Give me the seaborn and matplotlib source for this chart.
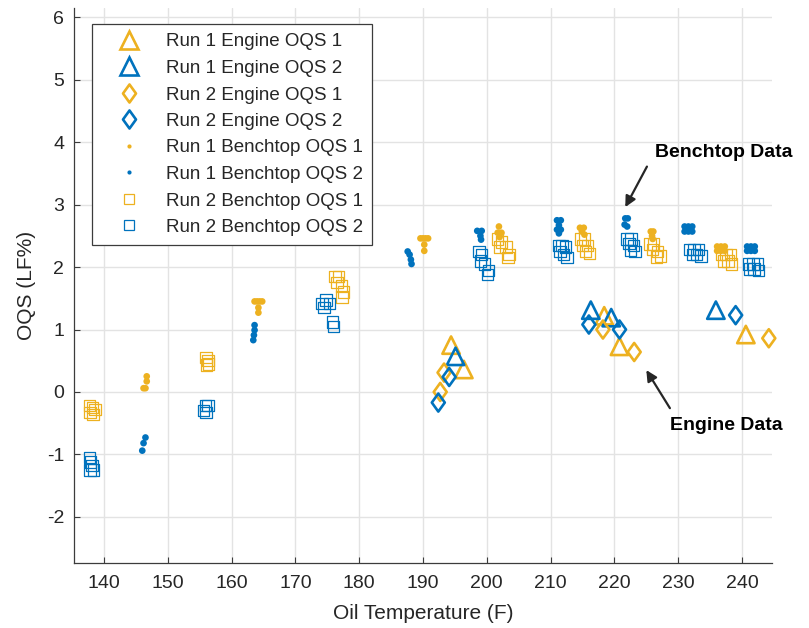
import numpy as np
import pandas as pd
import matplotlib
matplotlib.use("Agg")
import matplotlib.pyplot as plt
from matplotlib.path import Path
from matplotlib.lines import Line2D
import seaborn as sns

# ---------------- data ----------------
r1_eng1_t = [194.4, 196.4, 218.4, 220.8, 240.6]
r1_eng1_v = [0.75, 0.36, 1.22, 0.73, 0.92]
r1_eng2_t = [195.1, 216.3, 219.5, 235.9]
r1_eng2_v = [0.57, 1.31, 1.19, 1.31]
r2_eng1_t = [192.7, 193.3, 218.2, 223.1, 244.2]
r2_eng1_v = [0.00, 0.31, 1.00, 0.64, 0.86]
r2_eng2_t = [192.4, 194.1, 216.0, 220.8, 239.0]
r2_eng2_v = [-0.17, 0.24, 1.08, 1.00, 1.23]

r1_bench1_t = [146.7, 146.7, 146.2, 146.5,
               163.6, 164.0, 164.4, 164.8, 164.2, 164.2,
               189.6, 190.0, 190.4, 190.8, 190.2, 190.2,
               201.9, 201.7, 202.3, 202.0,
               214.6, 215.2, 214.9, 215.3,
               225.7, 226.1, 225.9, 226.0,
               236.1, 236.7, 237.3, 236.1, 236.7, 237.3]
r1_bench1_v = [0.25, 0.17, 0.06, 0.06,
               1.45, 1.45, 1.45, 1.45, 1.35, 1.27,
               2.46, 2.46, 2.46, 2.46, 2.36, 2.26,
               2.65, 2.55, 2.55, 2.48,
               2.63, 2.63, 2.57, 2.52,
               2.57, 2.57, 2.50, 2.45,
               2.33, 2.33, 2.33, 2.26, 2.26, 2.26]
r1_bench2_t = [146.5, 146.2, 146.0,
               163.6, 163.6, 163.5, 163.4,
               187.6, 187.9, 188.1, 188.2,
               198.5, 199.2, 199.0, 199.1,
               211.0, 211.6, 211.3, 211.0, 211.6, 211.3,
               221.7, 222.1, 221.6, 222.0,
               231.0, 231.6, 232.2, 231.0, 231.6, 232.2,
               240.8, 241.4, 242.0, 240.8, 241.4, 242.0]
r1_bench2_v = [-0.73, -0.82, -0.94,
               1.07, 0.99, 0.91, 0.83,
               2.25, 2.20, 2.12, 2.05,
               2.58, 2.58, 2.50, 2.44,
               2.75, 2.75, 2.67, 2.60, 2.60, 2.54,
               2.78, 2.78, 2.68, 2.65,
               2.65, 2.65, 2.65, 2.57, 2.57, 2.57,
               2.33, 2.33, 2.33, 2.26, 2.26, 2.26]
r2_bench1_t = [137.7, 138.2, 138.6, 137.8, 138.3,
               156.0, 156.3, 156.1, 156.4,
               176.2, 176.8, 176.5, 177.2, 177.5, 177.3,
               201.7, 202.3, 202.0, 203.0, 203.5, 203.3,
               214.7, 215.3, 215.0, 215.8, 215.5, 216.1,
               225.6, 226.1, 226.0, 226.8, 227.2, 226.6,
               236.8, 237.5, 238.2, 237.1, 237.8, 238.4]
r2_bench1_v = [-0.22, -0.25, -0.28, -0.33, -0.36,
               0.55, 0.50, 0.43, 0.45,
               1.85, 1.85, 1.75, 1.70, 1.60, 1.52,
               2.45, 2.40, 2.32, 2.32, 2.20, 2.15,
               2.45, 2.45, 2.35, 2.35, 2.25, 2.22,
               2.37, 2.37, 2.28, 2.25, 2.18, 2.16,
               2.20, 2.20, 2.20, 2.10, 2.10, 2.05]
r2_bench2_t = [137.7, 137.9, 138.1, 138.4, 137.8,
               155.9, 156.3, 155.6, 156.0,
               174.2, 174.8, 175.3, 174.5, 175.8, 176.0,
               198.8, 199.2, 199.0, 199.6, 200.3, 200.1,
               211.3, 211.8, 212.3, 211.5, 212.0, 212.6,
               222.0, 222.6, 222.3, 223.0, 222.5, 223.2,
               231.8, 232.5, 233.2, 232.2, 232.9, 233.6,
               241.0, 241.7, 242.4, 241.2, 241.9, 242.6]
r2_bench2_v = [-1.05, -1.12, -1.18, -1.25, -1.25,
               -0.22, -0.22, -0.30, -0.33,
               1.42, 1.47, 1.42, 1.35, 1.12, 1.05,
               2.25, 2.20, 2.10, 2.05, 1.95, 1.88,
               2.35, 2.35, 2.32, 2.25, 2.20, 2.15,
               2.45, 2.45, 2.38, 2.35, 2.27, 2.25,
               2.28, 2.28, 2.28, 2.20, 2.20, 2.18,
               2.05, 2.05, 2.05, 1.97, 1.97, 1.95]

labels = ["Run 1 Engine OQS 1", "Run 1 Engine OQS 2",
          "Run 2 Engine OQS 1", "Run 2 Engine OQS 2",
          "Run 1 Benchtop OQS 1", "Run 1 Benchtop OQS 2",
          "Run 2 Benchtop OQS 1", "Run 2 Benchtop OQS 2"]
x_ticks = [140, 150, 160, 170, 180, 190, 200, 210, 220, 230, 240]
y_ticks = [-2, -1, 0, 1, 2, 3, 4, 5, 6]

series_t = [r1_eng1_t, r1_eng2_t, r2_eng1_t, r2_eng2_t,
            r1_bench1_t, r1_bench2_t, r2_bench1_t, r2_bench2_t]
series_v = [r1_eng1_v, r1_eng2_v, r2_eng1_v, r2_eng2_v,
            r1_bench1_v, r1_bench2_v, r2_bench1_v, r2_bench2_v]

df = pd.concat([pd.DataFrame({"series": lab, "temp": t, "oqs": v})
                for lab, t, v in zip(labels, series_t, series_v)],
               ignore_index=True)

# ---------------- styling ----------------
ORANGE = "#EDB120"
BLUE = "#0072BD"
diamond = Path([(0, 1), (0.72, 0), (0, -1), (-0.72, 0), (0, 1)],
               [Path.MOVETO, Path.LINETO, Path.LINETO, Path.LINETO, Path.CLOSEPOLY])

styles = [
    dict(marker="^", ms=12.5, lw=1.9, color=ORANGE, fill=False),
    dict(marker="^", ms=12.5, lw=1.9, color=BLUE, fill=False),
    dict(marker=diamond, ms=13.0, lw=1.9, color=ORANGE, fill=False),
    dict(marker=diamond, ms=13.0, lw=1.9, color=BLUE, fill=False),
    dict(marker="o", ms=4.8, lw=0.0, color=ORANGE, fill=True),
    dict(marker="o", ms=4.8, lw=0.0, color=BLUE, fill=True),
    dict(marker="s", ms=8.2, lw=0.9, color=ORANGE, fill=False),
    dict(marker="s", ms=8.2, lw=0.9, color=BLUE, fill=False),
]
draw_order = [4, 5, 6, 7, 0, 1, 2, 3]

sns.set_theme(style="white")
plt.rcParams["font.family"] = ["Liberation Sans", "DejaVu Sans"]

fig = plt.figure(figsize=(8.09, 6.28), dpi=100)
ax = fig.add_axes([74 / 809, 1 - 563 / 628, 698 / 809, 555 / 628])

for i in draw_order:
    st = styles[i]
    sub = df[df["series"] == labels[i]]
    if st["fill"]:
        sns.scatterplot(data=sub, x="temp", y="oqs", ax=ax, marker=st["marker"],
                        s=st["ms"] ** 2, color=st["color"], edgecolor="none",
                        linewidth=0, legend=False, zorder=3 + i)
    else:
        sns.scatterplot(data=sub, x="temp", y="oqs", ax=ax, marker=st["marker"],
                        s=st["ms"] ** 2, color=st["color"], facecolor="none",
                        edgecolor=st["color"], linewidth=st["lw"], legend=False,
                        zorder=3 + i, clip_on=False)

ax.set_xlim(135.3, 244.7)
ax.set_ylim(-2.74, 6.15)
ax.set_xticks(x_ticks)
ax.set_yticks(y_ticks)
ax.set_xticklabels([str(t) for t in x_ticks])
ax.set_yticklabels([str(t) for t in y_ticks])
ax.grid(True, color="#e3e3e3", linewidth=1.0, zorder=0)
ax.set_axisbelow(True)
for side in ["top", "right"]:
    ax.spines[side].set_visible(False)
for side in ["left", "bottom"]:
    ax.spines[side].set_color("#3c3c3c")
    ax.spines[side].set_linewidth(0.9)
ax.tick_params(axis="both", direction="in", length=4, width=0.8, color="#3c3c3c",
               labelcolor="#262626", labelsize=14, pad=7)
ax.tick_params(axis="x", bottom=True, pad=9)
ax.tick_params(axis="y", left=True)
ax.set_xlabel("Oil Temperature (F)", fontsize=15, color="#262626", labelpad=8)
ax.set_ylabel("OQS (LF%)", fontsize=15, color="#262626", labelpad=8)

# legend
handles = []
for i in range(8):
    st = styles[i]
    ms = st["ms"]
    if st["marker"] == "o":
        ms = 3.0
    if st["marker"] == "s":
        ms = 7.0
    handles.append(Line2D([], [], linestyle="none", marker=st["marker"],
                          markersize=ms,
                          markerfacecolor=st["color"] if st["fill"] else "none",
                          markeredgecolor=st["color"],
                          markeredgewidth=st["lw"] if not st["fill"] else 0))
leg = ax.legend(handles, labels, loc="upper left",
                bbox_to_anchor=(91.7 / 809, 1 - 24 / 628),
                bbox_transform=fig.transFigure, borderaxespad=0,
                fontsize=13.5, frameon=True, fancybox=False, framealpha=1,
                edgecolor="#3c3c3c", borderpad=0.5, handlelength=3.0,
                handletextpad=0.45, labelspacing=0.5)
leg.get_frame().set_linewidth(0.9)
for txt in leg.get_texts():
    txt.set_color("#262626")

# annotations
ax.annotate("", xy=(221.7, 2.96), xytext=(225.1, 3.61),
            arrowprops=dict(arrowstyle="-|>", color="#262626", lw=1.6,
                            mutation_scale=16, shrinkA=0, shrinkB=0))
ax.text(226.4, 3.83, "Benchtop Data", fontsize=14, fontweight="bold",
        color="black", ha="left", va="center")
ax.annotate("", xy=(225.0, 0.35), xytext=(228.7, -0.26),
            arrowprops=dict(arrowstyle="-|>", color="#262626", lw=1.6,
                            mutation_scale=16, shrinkA=0, shrinkB=0))
ax.text(228.7, -0.53, "Engine Data", fontsize=14, fontweight="bold",
        color="black", ha="left", va="center")

fig.savefig("out.png", dpi=100)
